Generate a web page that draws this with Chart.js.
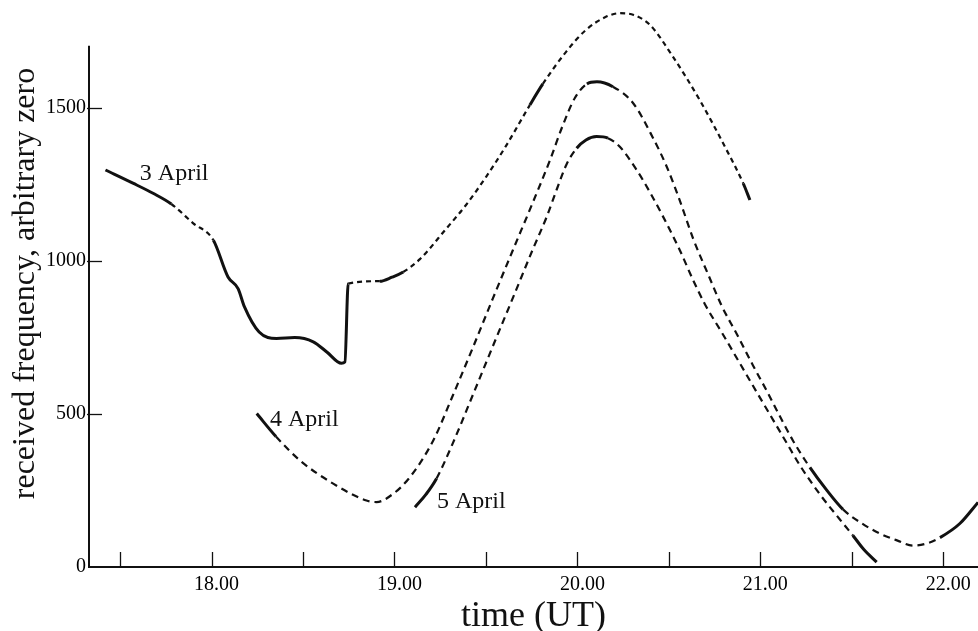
<!DOCTYPE html>
<html>
<head>
<meta charset="utf-8">
<script src="https://cdn.jsdelivr.net/npm/chart.js@4.4.1/dist/chart.umd.min.js"></script>
<style>
  html, body { margin: 0; padding: 0; background: #fff; }
  #wrap { width: 978px; height: 631px; }
</style>
</head>
<body>
<div id="wrap"><canvas id="freqChart" width="978" height="631"></canvas></div>
<script>
// time in hours (UT), frequency in arbitrary units
const times3 = [17.42, 17.57, 17.68, 17.78, 17.90, 18.01, 18.09, 18.145, 18.18, 18.26, 18.355, 18.455, 18.556, 18.63, 18.71, 18.729, 18.747, 18.92, 18.986, 19.048, 19.139, 19.285, 19.39, 19.50, 19.609, 19.74, 19.811, 19.937, 20.046, 20.156, 20.232, 20.308, 20.396, 20.522, 20.67, 20.816, 20.907, 20.943];
const freq3  = [1296, 1253, 1220, 1185, 1122, 1067, 947, 909, 849, 767, 746, 749, 735, 702, 665, 669, 925, 933, 946, 963, 1005, 1106, 1181, 1273, 1374, 1508, 1577, 1681, 1753, 1796, 1808, 1802, 1770, 1666, 1523, 1361, 1252, 1198];

const times4 = [18.247, 18.352, 18.483, 18.665, 18.847, 18.902, 18.993, 19.084, 19.212, 19.319, 19.429, 19.538, 19.647, 19.757, 19.85, 19.921, 19.986, 20.052, 20.107, 20.194, 20.305, 20.414, 20.489, 20.56, 20.634, 20.722, 20.79, 20.872, 20.96, 21.036, 21.107, 21.178, 21.271, 21.364, 21.452, 21.556, 21.654, 21.747, 21.835, 21.911, 21.982, 22.091, 22.19];
const freq4  = [501, 426, 348, 272, 217, 212, 239, 293, 413, 560, 717, 877, 1034, 1191, 1328, 1443, 1531, 1577, 1584, 1568, 1514, 1400, 1306, 1196, 1070, 945, 851, 760, 658, 574, 492, 413, 325, 250, 188, 142, 109, 87, 70, 77, 96, 142, 211];

const times5 = [19.112, 19.172, 19.23, 19.321, 19.43, 19.54, 19.649, 19.757, 19.832, 19.888, 19.941, 19.996, 20.047, 20.105, 20.167, 20.232, 20.324, 20.396, 20.469, 20.56, 20.633, 20.697, 20.795, 20.888, 20.981, 21.068, 21.145, 21.216, 21.326, 21.435, 21.506, 21.566, 21.636];
const freq5  = [195, 237, 289, 407, 564, 724, 881, 1038, 1143, 1234, 1315, 1367, 1394, 1405, 1400, 1372, 1296, 1224, 1143, 1034, 936, 858, 760, 665, 570, 482, 404, 332, 237, 155, 103, 57, 16];

// stretches that were actually observed (drawn solid), the rest is interpolated
const observed3 = [[17.42, 17.78], [18.01, 18.747], [18.92, 19.048], [19.74, 19.811], [20.907, 20.943]];
const observed4 = [[18.247, 18.352], [20.052, 20.194], [21.271, 21.452], [21.982, 22.19]];
const observed5 = [[19.112, 19.23], [19.996, 20.167], [21.506, 21.636]];

const xMajorTicks = [18, 19, 20, 21, 22];
const xMinorTicks = [17.5, 18, 18.5, 19, 19.5, 20, 20.5, 21, 21.5, 22];
const yTicks = [0, 500, 1000, 1500];
const yAxisTop = 1702;

const dayLabels = ["3 April", "4 April", "5 April"];
const dayLabelTimes = [17.608, 18.319, 19.232];
const dayLabelFreqs = [1263, 459, 194];

const INK = "#111";
const SERIF = "'Liberation Serif', 'DejaVu Serif', serif";

function toPoints(ts, vs) {
    return ts.map((t, i) => ({ x: t, y: vs[i] }));
}

function segmentStyle(spans, dash) {
    const isSolid = ctx => {
        const mid = (ctx.p0.parsed.x + ctx.p1.parsed.x) / 2;
        return spans.some(s => mid >= s[0] && mid <= s[1]);
    };
    return {
        borderDash: ctx => isSolid(ctx) ? [] : dash,
        borderWidth: ctx => isSolid(ctx) ? 3 : 2.2
    };
}

function makeSet(label, ts, vs, spans, dash) {
    return {
        label: label,
        data: toPoints(ts, vs),
        borderColor: INK,
        borderWidth: 2.2,
        pointRadius: 0,
        fill: false,
        clip: false,
        cubicInterpolationMode: "monotone",
        borderCapStyle: "butt",
        segment: segmentStyle(spans, dash)
    };
}

// left axis line, inward tick marks and the day labels
const decorations = {
    id: "decorations",
    afterDatasetsDraw(chart) {
        const { ctx, scales: { x, y }, chartArea } = chart;
        ctx.save();
        ctx.strokeStyle = INK;
        ctx.lineWidth = 2;
        ctx.beginPath();
        ctx.moveTo(chartArea.left, y.getPixelForValue(yAxisTop));
        ctx.lineTo(chartArea.left, chartArea.bottom);
        ctx.stroke();

        ctx.lineWidth = 1.3;
        xMinorTicks.forEach(t => {
            const px = Math.round(x.getPixelForValue(t)) + 0.5;
            ctx.beginPath();
            ctx.moveTo(px, chartArea.bottom);
            ctx.lineTo(px, chartArea.bottom - 15);
            ctx.stroke();
        });
        yTicks.forEach(v => {
            if (v === 0) return;
            const py = Math.round(y.getPixelForValue(v)) + 0.5;
            ctx.beginPath();
            ctx.moveTo(chartArea.left - 2, py);
            ctx.lineTo(chartArea.left + 13, py);
            ctx.stroke();
        });
        ctx.fillStyle = INK;
        ctx.font = "24px " + SERIF;
        ctx.textAlign = "left";
        ctx.textBaseline = "alphabetic";
        dayLabels.forEach((txt, i) => {
            ctx.fillText(txt, x.getPixelForValue(dayLabelTimes[i]), y.getPixelForValue(dayLabelFreqs[i]));
        });
        ctx.restore();
    }
};

const chart = new Chart(document.getElementById("freqChart"), {
    type: "line",
    data: {
        datasets: [
            makeSet("3 April", times3, freq3, observed3, [5, 4]),
            makeSet("4 April", times4, freq4, observed4, [7, 5]),
            makeSet("5 April", times5, freq5, observed5, [7, 5])
        ]
    },
    options: {
        responsive: false,
        animation: false,
        devicePixelRatio: 1,
        layout: { padding: 0 },
        plugins: {
            legend: { display: false },
            tooltip: { enabled: false }
        },
        scales: {
            x: {
                type: "linear",
                min: 17.33,
                max: 22.19,
                grid: { display: false, drawTicks: false },
                border: { display: true, color: INK, width: 2 },
                afterBuildTicks: axis => { axis.ticks = xMajorTicks.map(v => ({ value: v })); },
                afterFit: axis => { axis.height = 64; axis.paddingLeft = 0; axis.paddingRight = 0; },
                ticks: {
                    color: "#000",
                    padding: 6,
                    labelOffset: 5,
                    maxRotation: 0,
                    autoSkip: false,
                    font: { family: SERIF, size: 20 },
                    callback: v => v.toFixed(2)
                },
                title: {
                    display: true,
                    text: "time (UT)",
                    color: INK,
                    font: { family: SERIF, size: 36, lineHeight: 0.8 },
                    padding: { top: 0, bottom: 0 }
                }
            },
            y: {
                min: 0,
                max: 1851,
                grid: { display: false, drawTicks: false },
                border: { display: false },
                afterBuildTicks: axis => { axis.ticks = yTicks.map(v => ({ value: v })); },
                afterFit: axis => { axis.width = 89; axis.paddingTop = 0; axis.paddingBottom = 0; },
                ticks: {
                    color: "#000",
                    padding: 3,
                    autoSkip: false,
                    font: { family: SERIF, size: 20 },
                    callback: v => String(v)
                },
                title: {
                    display: true,
                    text: "received frequency, arbitrary zero",
                    color: INK,
                    font: { family: SERIF, size: 32 },
                    padding: { top: 6, bottom: 0 }
                }
            }
        }
    },
    plugins: [decorations]
});
</script>
</body>
</html>
